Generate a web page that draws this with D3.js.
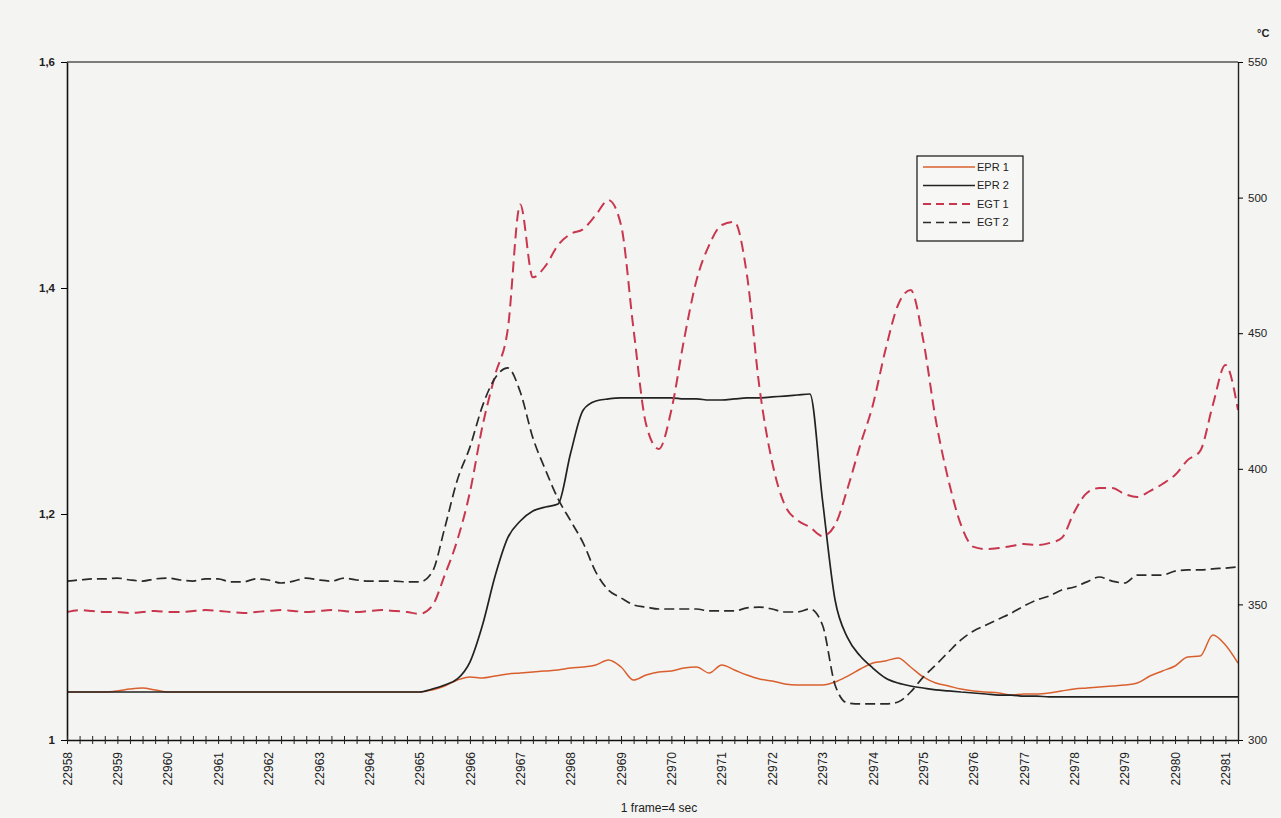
<!DOCTYPE html>
<html>
<head>
<meta charset="utf-8">
<script src="https://cdn.jsdelivr.net/npm/d3@7"></script>
<style>
  body { margin: 0; background: #f4f4f2; }
  svg { display: block; font-family: "Liberation Sans", Arial, sans-serif; }
</style>
</head>
<body>
<div id="chart"></div>
<script>
// frame labels, one every 4 samples
const frameLabels = ["22958", "22959", "22960", "22961", "22962", "22963", "22964", "22965",
  "22966", "22967", "22968", "22969", "22970", "22971", "22972", "22973", "22974", "22975",
  "22976", "22977", "22978", "22979", "22980", "22981"];

const leftTicks = [1, 1.2, 1.4, 1.6];
const leftTickLabels = ["1", "1,2", "1,4", "1,6"];
const rightTicks = [300, 350, 400, 450, 500, 550];

const seriesNames = ["EPR 1", "EPR 2", "EGT 1", "EGT 2"];

// EPR values (left axis)
const epr1 = [1.0425, 1.0425, 1.0425, 1.0425, 1.0434, 1.0451, 1.0460, 1.0443, 1.0425, 1.0425,
  1.0425, 1.0425, 1.0425, 1.0425, 1.0425, 1.0425, 1.0425, 1.0425, 1.0425, 1.0425,
  1.0425, 1.0425, 1.0425, 1.0425, 1.0425, 1.0425, 1.0425, 1.0425, 1.0425, 1.0443,
  1.0478, 1.0531, 1.0558, 1.0549, 1.0566, 1.0584, 1.0593, 1.0602, 1.0611, 1.0620,
  1.0637, 1.0646, 1.0664, 1.0708, 1.0646, 1.0531, 1.0575, 1.0602, 1.0611, 1.0637,
  1.0646, 1.0593, 1.0664, 1.0620, 1.0575, 1.0540, 1.0522, 1.0496, 1.0487, 1.0487,
  1.0487, 1.0513, 1.0566, 1.0628, 1.0681, 1.0699, 1.0726, 1.0646, 1.0558, 1.0504,
  1.0478, 1.0451, 1.0434, 1.0425, 1.0416, 1.0398, 1.0407, 1.0407, 1.0416, 1.0434,
  1.0451, 1.0460, 1.0469, 1.0478, 1.0487, 1.0504, 1.0566, 1.0611, 1.0655, 1.0735,
  1.0743, 1.0929, 1.0841, 1.0681];

const epr2 = [1.0425, 1.0425, 1.0425, 1.0425, 1.0425, 1.0425, 1.0425, 1.0425, 1.0425, 1.0425,
  1.0425, 1.0425, 1.0425, 1.0425, 1.0425, 1.0425, 1.0425, 1.0425, 1.0425, 1.0425,
  1.0425, 1.0425, 1.0425, 1.0425, 1.0425, 1.0425, 1.0425, 1.0425, 1.0425, 1.0451,
  1.0487, 1.0540, 1.0690, 1.1018, 1.1451, 1.1788, 1.1938, 1.2027, 1.2062, 1.2089,
  1.2540, 1.2921, 1.3000, 1.3018, 1.3027, 1.3027, 1.3027, 1.3027, 1.3027, 1.3018,
  1.3018, 1.3009, 1.3009, 1.3018, 1.3027, 1.3027, 1.3036, 1.3044, 1.3053, 1.3062,
  1.2124, 1.1239, 1.0903, 1.0743, 1.0637, 1.0549, 1.0504, 1.0478, 1.0460, 1.0443,
  1.0434, 1.0425, 1.0416, 1.0407, 1.0398, 1.0398, 1.0389, 1.0389, 1.0381, 1.0381,
  1.0381, 1.0381, 1.0381, 1.0381, 1.0381, 1.0381, 1.0381, 1.0381, 1.0381, 1.0381,
  1.0381, 1.0381, 1.0381, 1.0381];

// EGT values in °C (right axis)
const egt1 = [347.2, 347.9, 347.6, 347.2, 347.2, 346.8, 347.2, 347.6, 347.2, 347.2,
  347.6, 347.9, 347.6, 347.2, 346.8, 347.2, 347.6, 347.9, 347.6, 347.2,
  347.6, 347.9, 347.6, 347.2, 347.6, 347.9, 347.6, 347.2, 346.5, 349.4,
  360.8, 373.7, 391.4, 415.8, 434.6, 451.2, 497.5, 470.6, 474.8, 482.5,
  486.6, 488.4, 493.6, 499.1, 489.9, 451.2, 416.2, 407.3, 421.7, 447.5,
  469.6, 482.5, 489.9, 491.0, 471.5, 429.8, 402.5, 386.7, 381.1, 378.5,
  375.2, 379.3, 392.9, 408.8, 423.5, 443.8, 460.4, 465.9, 447.5, 418.0,
  395.9, 379.3, 371.2, 370.4, 370.8, 371.5, 372.3, 371.9, 372.6, 374.5,
  384.1, 391.1, 392.9, 392.9, 390.7, 389.6, 391.8, 394.4, 397.7, 403.2,
  406.6, 423.5, 438.3, 421.7];

const egt2 = [358.6, 359.0, 359.4, 359.4, 359.7, 359.0, 358.6, 359.4, 359.7, 359.0,
  358.6, 359.4, 359.4, 358.3, 358.3, 359.4, 359.0, 357.9, 358.6, 359.7,
  359.0, 358.6, 359.7, 359.0, 358.6, 358.6, 358.6, 358.3, 358.3, 361.9,
  378.2, 395.9, 408.0, 423.2, 433.5, 437.2, 428.3, 411.4, 399.6, 388.9,
  380.8, 372.6, 361.9, 355.3, 352.4, 349.8, 349.0, 348.3, 348.3, 348.3,
  348.3, 347.6, 347.6, 347.6, 348.7, 349.0, 348.3, 347.2, 347.2, 348.3,
  342.4, 320.3, 313.6, 313.3, 313.3, 313.3, 314.0, 317.7, 323.2, 327.7,
  332.4, 336.9, 340.2, 342.4, 344.6, 346.8, 349.4, 351.6, 353.1, 355.3,
  356.4, 358.3, 360.1, 358.6, 357.9, 360.8, 360.8, 360.8, 362.3, 362.7,
  362.7, 363.1, 363.4, 363.8];

const W = 1281, H = 818;
const margin = { top: 62, right: 43, bottom: 78, left: 67 };
const width = W - margin.left - margin.right;
const height = H - margin.top - margin.bottom;
const nPts = epr1.length;

const svg = d3.select("#chart").append("svg")
  .attr("width", W)
  .attr("height", H);

const g = svg.append("g")
  .attr("transform", "translate(" + margin.left + "," + margin.top + ")");

const x = d3.scaleLinear().domain([0, nPts - 1]).range([0, width]);
const yL = d3.scaleLinear().domain([1, 1.6]).range([height, 0]);
const yR = d3.scaleLinear().domain([300, 550]).range([height, 0]);

// top frame line
g.append("line")
  .attr("x1", 0).attr("x2", width)
  .attr("y1", 0).attr("y2", 0)
  .attr("stroke", "#555").attr("stroke-width", 1.5);

// series
const series = [
  { name: seriesNames[0], values: epr1, y: yL, color: "#d9602e", width: 1.5, dash: null },
  { name: seriesNames[1], values: epr2, y: yL, color: "#222", width: 1.7, dash: null },
  { name: seriesNames[2], values: egt1, y: yR, color: "#c9374f", width: 2, dash: "11,6" },
  { name: seriesNames[3], values: egt2, y: yR, color: "#2a2a2a", width: 1.7, dash: "10,5" }
];

series.forEach(function (s) {
  const line = d3.line()
    .x(function (d, i) { return x(i); })
    .y(function (d) { return s.y(d); })
    .curve(d3.curveMonotoneX);
  g.append("path")
    .datum(s.values)
    .attr("fill", "none")
    .attr("stroke", s.color)
    .attr("stroke-width", s.width)
    .attr("stroke-dasharray", s.dash)
    .attr("d", line);
});

// left axis
const axL = g.append("g")
  .call(d3.axisLeft(yL).tickValues(leftTicks)
    .tickFormat(function (d, i) { return leftTickLabels[i]; })
    .tickSizeInner(6).tickSizeOuter(0).tickPadding(6));
axL.select(".domain").attr("stroke", "#111").attr("stroke-width", 1.6);
axL.selectAll("text").attr("font-size", "11.5px").attr("fill", "#222").attr("font-weight", "bold");

// right axis
const axR = g.append("g")
  .attr("transform", "translate(" + width + ",0)")
  .call(d3.axisRight(yR).tickValues(rightTicks).tickSizeInner(5).tickSizeOuter(0).tickPadding(5));
axR.select(".domain").attr("stroke", "#222").attr("stroke-width", 1.4);
axR.selectAll("text").attr("font-size", "11.5px").attr("fill", "#222");

// bottom axis: a tick for every sample, a label every 4
const axB = g.append("g")
  .attr("transform", "translate(0," + height + ")")
  .call(d3.axisBottom(x).tickValues(d3.range(0, nPts))
    .tickFormat(function (d) { return d % 4 === 0 ? frameLabels[d / 4] : ""; })
    .tickSizeInner(4).tickSizeOuter(0));
axB.select(".domain").attr("stroke", "#111").attr("stroke-width", 1.6);
axB.selectAll(".tick line").attr("y1", -4).attr("stroke", "#222");
axB.selectAll("text")
  .attr("transform", "rotate(-90)")
  .attr("x", -12).attr("y", 0).attr("dy", "0.35em")
  .attr("text-anchor", "end")
  .attr("font-size", "12px").attr("fill", "#222");

// unit and x title
svg.append("text")
  .attr("x", 1257).attr("y", 37)
  .attr("font-size", "11px").attr("font-weight", "bold").attr("fill", "#222")
  .text("°C");

svg.append("text")
  .attr("x", 659).attr("y", 812)
  .attr("text-anchor", "middle")
  .attr("font-size", "12px").attr("fill", "#222")
  .text("1 frame=4 sec");

// legend
const lg = svg.append("g").attr("transform", "translate(917,156)");
lg.append("rect")
  .attr("width", 106).attr("height", 85)
  .attr("fill", "#f7f7f5").attr("stroke", "#111").attr("stroke-width", 1.2);
series.forEach(function (s, i) {
  const yy = 11 + i * 18.5;
  lg.append("line")
    .attr("x1", 6).attr("x2", 58)
    .attr("y1", yy).attr("y2", yy)
    .attr("stroke", s.color)
    .attr("stroke-width", s.width)
    .attr("stroke-dasharray", s.dash ? "8,5" : null);
  lg.append("text")
    .attr("x", 60).attr("y", yy).attr("dy", "0.35em")
    .attr("font-size", "11px").attr("fill", "#222")
    .text(s.name);
});
</script>
</body>
</html>
